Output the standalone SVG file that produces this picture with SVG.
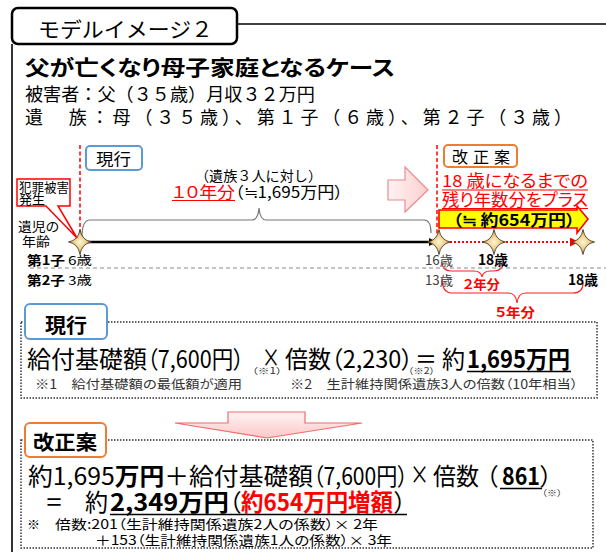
<svg xmlns="http://www.w3.org/2000/svg" width="606" height="552" viewBox="0 0 606 552">
<defs>
<style>
text{font-family:"Noto Sans CJK JP","Noto Sans",sans-serif;font-feature-settings:"palt";fill:#000}
.nop{font-feature-settings:normal}
.b{font-weight:bold}
.red{fill:#ff0000}
.g{fill:#404040}
.fn{fill:#333;font-size:12.5px}
.big{font-size:24px}
.sub{font-size:8.5px;fill:#333}
.dot{fill:none;stroke:#333;stroke-width:1.5;stroke-dasharray:1.5 1.5}
.rdash{stroke:#ff0000;stroke-width:1.5;stroke-dasharray:4 2.5;fill:none}
.brace{fill:none;stroke:#ff2020;stroke-width:1.2}
</style>
<radialGradient id="starG" cx="50%" cy="50%" r="60%"><stop offset="0" stop-color="#fff7cf"/><stop offset="1" stop-color="#d69a3c"/></radialGradient>
<linearGradient id="pinkG" x1="0" y1="0" x2="0" y2="1"><stop offset="0" stop-color="#fff3f3"/><stop offset="1" stop-color="#fbc8c8"/></linearGradient>
<linearGradient id="pinkH" x1="0" y1="0" x2="1" y2="0"><stop offset="0" stop-color="#fff3f3"/><stop offset="1" stop-color="#fbcfcf"/></linearGradient>
<path id="star" d="M0 -12.5 Q1.7 -1.7 11.5 0 Q1.7 1.7 0 12.5 Q-1.7 1.7 -11.5 0 Q-1.7 -1.7 0 -12.5Z" fill="url(#starG)" stroke="#4a3c26" stroke-width="0.9"/>
<marker id="arrB" viewBox="0 0 10 10" refX="10" refY="5" markerWidth="9" markerHeight="8" markerUnits="userSpaceOnUse" orient="auto"><path d="M0 0L10 5L0 10Z" fill="#000"/></marker>
<marker id="arrR" viewBox="0 0 10 10" refX="10" refY="5" markerWidth="10" markerHeight="9" markerUnits="userSpaceOnUse" orient="auto"><path d="M0 0L10 5L0 10Z" fill="#ff0000"/></marker>
</defs>
<rect width="606" height="552" fill="#fff"/>

<g id="frame">
<line x1="12" y1="44" x2="12" y2="552" stroke="#000" stroke-width="1.6"/>
<line x1="237" y1="24" x2="606" y2="24" stroke="#000" stroke-width="1.6"/>
</g>

<g id="title">
<rect x="12" y="8" width="225" height="36" rx="6" fill="#fff" stroke="#000" stroke-width="2.5"/>
<text x="38" y="37" font-size="21" class="nop" textLength="175" lengthAdjust="spacingAndGlyphs">モデルイメージ２</text>
</g>

<g id="case">
<text x="25" y="75" font-size="21" class="b" textLength="370" lengthAdjust="spacingAndGlyphs">父が亡くなり母子家庭となるケース</text>
<text x="25" y="101" font-size="18" fill="#222" class="nop" textLength="290" lengthAdjust="spacingAndGlyphs">被害者：父（３５歳）月収３２万円</text>
<text x="25" y="124" font-size="18" fill="#222" class="nop" textLength="547" lengthAdjust="spacing">遺　族：母（３５歳）、第１子（６歳）、第２子（３歳）</text>
</g>

<g id="connectors">
<line x1="80" y1="145" x2="80" y2="240" class="rdash"/>
<line x1="437" y1="145" x2="437" y2="242" class="rdash"/>
<line x1="80" y1="242" x2="437" y2="242" stroke="#000" stroke-width="2.6" marker-end="url(#arrB)"/>
<line x1="442" y1="242" x2="579" y2="242" stroke="#ff0000" stroke-width="2" stroke-dasharray="2 2" marker-end="url(#arrR)"/>
<path d="M82 237Q82 220 90 220H252Q258 220 259 208Q260 220 266 220H424Q431 220 431 233" fill="none" stroke="#777" stroke-width="1.2"/>
<path d="M442 262Q442 271 451 271H474Q481 271 482 277Q483 271 490 271H494Q503 271 503 262" class="brace"/>
<path d="M442 278Q442 293 452 293H508Q516 293 517 303Q518 293 526 293H573Q583 293 583 283" class="brace"/>
<line x1="30" y1="268" x2="606" y2="268" stroke="#888" stroke-width="1" stroke-dasharray="4 3"/>
<polygon points="388,180 405,180 405,167 428,190 405,212 405,200 388,200" fill="url(#pinkH)" stroke="#f08a8a" stroke-width="1.2"/>
<polygon points="228,412 305,412 305,423 362,423 267,438 175,423 228,423" fill="url(#pinkG)" stroke="#f26b6b" stroke-width="1.2"/>
</g>

<g id="stars">
<use href="#star" x="80" y="242"/>
<use href="#star" x="439" y="242"/>
<use href="#star" x="494" y="242"/>
<use href="#star" x="583" y="242"/>
</g>

<g id="callout">
<path d="M17 179H70V206H58L77 238L46 206H17Z" fill="#fff" stroke="#ff0000" stroke-width="1.5"/>
<text x="19" y="192" font-size="13" fill="#333" textLength="50" lengthAdjust="spacingAndGlyphs">犯罪被害</text>
<text x="19" y="204" font-size="13" fill="#333" textLength="26" lengthAdjust="spacingAndGlyphs">発生</text>
</g>

<g id="age-label">
<text x="18" y="231" font-size="13" fill="#333" textLength="41" lengthAdjust="spacingAndGlyphs">遺児の</text>
<text x="22" y="246" font-size="13" fill="#333" textLength="28" lengthAdjust="spacingAndGlyphs">年齢</text>
</g>

<g id="current-tag">
<rect x="86" y="146" width="56" height="24" rx="4" fill="#fff" stroke="#5b9bd5" stroke-width="2"/>
<text x="96" y="165" font-size="16" fill="#333" textLength="35" lengthAdjust="spacingAndGlyphs">現行</text>
</g>

<g id="current-span">
<text x="195" y="181" font-size="14" fill="#555" class="nop" textLength="127" lengthAdjust="spacingAndGlyphs">（遺族３人に対し）</text>
<text x="172" y="198" font-size="16" class="red" textLength="63" lengthAdjust="spacingAndGlyphs">１０年分</text>
<line x1="172" y1="200.5" x2="235" y2="200.5" stroke="#ff0000" stroke-width="1"/>
<text x="235" y="198" font-size="16" fill="#222" textLength="108" lengthAdjust="spacingAndGlyphs">（≒1,695万円）</text>
</g>

<g id="reform-tag">
<rect x="444" y="145" width="73" height="22" rx="4" fill="#fff" stroke="#ed7d31" stroke-width="2"/>
<text x="452" y="163" font-size="16" fill="#333" textLength="58" lengthAdjust="spacing">改正案</text>
</g>

<g id="reform-span">
<text x="442" y="187" font-size="16.5" class="red" textLength="146" lengthAdjust="spacingAndGlyphs">18 歳になるまでの</text>
<line x1="442" y1="190" x2="588" y2="190" stroke="#ff0000" stroke-width="1"/>
<text x="442" y="206" font-size="16.5" class="red" textLength="146" lengthAdjust="spacingAndGlyphs">残り年数分をプラス</text>
<line x1="442" y1="208.5" x2="588" y2="208.5" stroke="#ff0000" stroke-width="1"/>
<polygon points="439,210 577,210 577,206 588,219 577,233 577,228 439,228" fill="#ffff00" stroke="#ff0000" stroke-width="1.6"/>
<text x="453" y="226" font-size="16" class="b" fill="#222" textLength="122" lengthAdjust="spacingAndGlyphs">（≒ 約654万円）</text>
</g>

<g id="ages">
<text x="27" y="265" font-size="13" class="b" textLength="38" lengthAdjust="spacingAndGlyphs">第1子</text>
<text x="68" y="265" font-size="12" fill="#555" textLength="24" lengthAdjust="spacingAndGlyphs">6歳</text>
<text x="27" y="285" font-size="13" class="b" textLength="38" lengthAdjust="spacingAndGlyphs">第2子</text>
<text x="68" y="285" font-size="12" fill="#555" textLength="24" lengthAdjust="spacingAndGlyphs">3歳</text>
<text x="425" y="265" font-size="13" class="g" textLength="28" lengthAdjust="spacingAndGlyphs">16歳</text>
<text x="478" y="265" font-size="14" class="b" textLength="30" lengthAdjust="spacingAndGlyphs">18歳</text>
<text x="425" y="285" font-size="13" class="g" textLength="28" lengthAdjust="spacingAndGlyphs">13歳</text>
<text x="568" y="285" font-size="14" class="b" textLength="30" lengthAdjust="spacingAndGlyphs">18歳</text>
<text x="463" y="289" font-size="13" class="b red" textLength="37" lengthAdjust="spacingAndGlyphs">２年分</text>
<text x="495" y="317" font-size="13" class="b red" textLength="40" lengthAdjust="spacingAndGlyphs">５年分</text>
</g>

<g id="current-box">
<rect x="21" y="322" width="576" height="76" class="dot"/>
<rect x="25" y="304" width="82" height="35" rx="5" fill="#fff" stroke="#5b9bd5" stroke-width="2"/>
<text x="45" y="333" font-size="20" class="b" textLength="42" lengthAdjust="spacingAndGlyphs">現行</text>
<text x="27" y="368" class="big" textLength="120" lengthAdjust="spacingAndGlyphs">給付基礎額</text>
<text x="147" y="368" class="big" textLength="97" lengthAdjust="spacingAndGlyphs">（7,600円）</text>
<text x="262" y="367" font-size="26" textLength="18" lengthAdjust="spacingAndGlyphs">×</text>
<text x="285" y="368" class="big" textLength="46" lengthAdjust="spacingAndGlyphs">倍数</text>
<text x="331" y="368" class="big" textLength="82" lengthAdjust="spacingAndGlyphs">（2,230）</text>
<text x="415" y="368" class="big" textLength="22" lengthAdjust="spacingAndGlyphs">＝</text>
<text x="442" y="368" class="big" textLength="23" lengthAdjust="spacingAndGlyphs">約</text>
<text x="467" y="368" class="big b" textLength="103" lengthAdjust="spacingAndGlyphs">1,695万円</text>
<line x1="467" y1="371.5" x2="571" y2="371.5" stroke="#000" stroke-width="1.5"/>
<text x="252" y="374" class="sub" textLength="30" lengthAdjust="spacingAndGlyphs">（※1）</text>
<text x="408" y="374" class="sub" textLength="27" lengthAdjust="spacingAndGlyphs">（※2）</text>
<text x="35" y="389" class="fn" textLength="207" lengthAdjust="spacingAndGlyphs">※1　給付基礎額の最低額が適用</text>
<text x="290" y="389" class="fn" textLength="288" lengthAdjust="spacingAndGlyphs">※2　生計維持関係遺族3人の倍数（10年相当）</text>
</g>

<g id="reform-box">
<rect x="21" y="440" width="572" height="108" class="dot"/>
<rect x="25" y="423" width="81" height="34" rx="5" fill="#fff" stroke="#ed7d31" stroke-width="2"/>
<text x="33" y="450" font-size="20" class="b" textLength="64" lengthAdjust="spacingAndGlyphs">改正案</text>
<text x="28" y="485" class="big" textLength="285" lengthAdjust="spacingAndGlyphs">約1,695<tspan class="b">万円</tspan>＋給付基礎額</text>
<text x="313" y="485" class="big" textLength="95" lengthAdjust="spacingAndGlyphs">（7,600円）</text>
<text x="410" y="484" font-size="26" textLength="19" lengthAdjust="spacingAndGlyphs">×</text>
<text x="433" y="485" class="big" textLength="46" lengthAdjust="spacingAndGlyphs">倍数</text>
<text x="486" y="485" class="big" textLength="12" lengthAdjust="spacingAndGlyphs">（</text>
<text x="502" y="485" class="big b" textLength="38" lengthAdjust="spacingAndGlyphs">861</text>
<text x="540" y="485" class="big" textLength="12" lengthAdjust="spacingAndGlyphs">）</text>
<line x1="500" y1="488.5" x2="542" y2="488.5" stroke="#000" stroke-width="1.5"/>
<text x="542" y="496" class="sub" textLength="20" lengthAdjust="spacingAndGlyphs">（※）</text>
<text x="45" y="511" class="big" textLength="18" lengthAdjust="spacingAndGlyphs">＝</text>
<text x="85" y="511" class="big" textLength="23" lengthAdjust="spacingAndGlyphs">約</text>
<text x="110" y="511" class="big b" textLength="119" lengthAdjust="spacingAndGlyphs">2,349万円</text>
<text x="229" y="511" class="big" textLength="12" lengthAdjust="spacingAndGlyphs">（</text>
<text x="241" y="511" class="big b red" textLength="152" lengthAdjust="spacingAndGlyphs">約654万円増額</text>
<text x="394" y="511" class="big" textLength="12" lengthAdjust="spacingAndGlyphs">）</text>
<line x1="110" y1="514.5" x2="407" y2="514.5" stroke="#000" stroke-width="1.5"/>
<text x="27" y="529" font-size="13" fill="#333">※</text>
<text x="55" y="529" font-size="13" fill="#333" textLength="323" lengthAdjust="spacingAndGlyphs">倍数:201（生計維持関係遺族2人の係数）× 2年</text>
<text x="95" y="545" font-size="13" fill="#333" textLength="297" lengthAdjust="spacingAndGlyphs">＋153（生計維持関係遺族1人の係数）× 3年</text>
</g>
</svg>
